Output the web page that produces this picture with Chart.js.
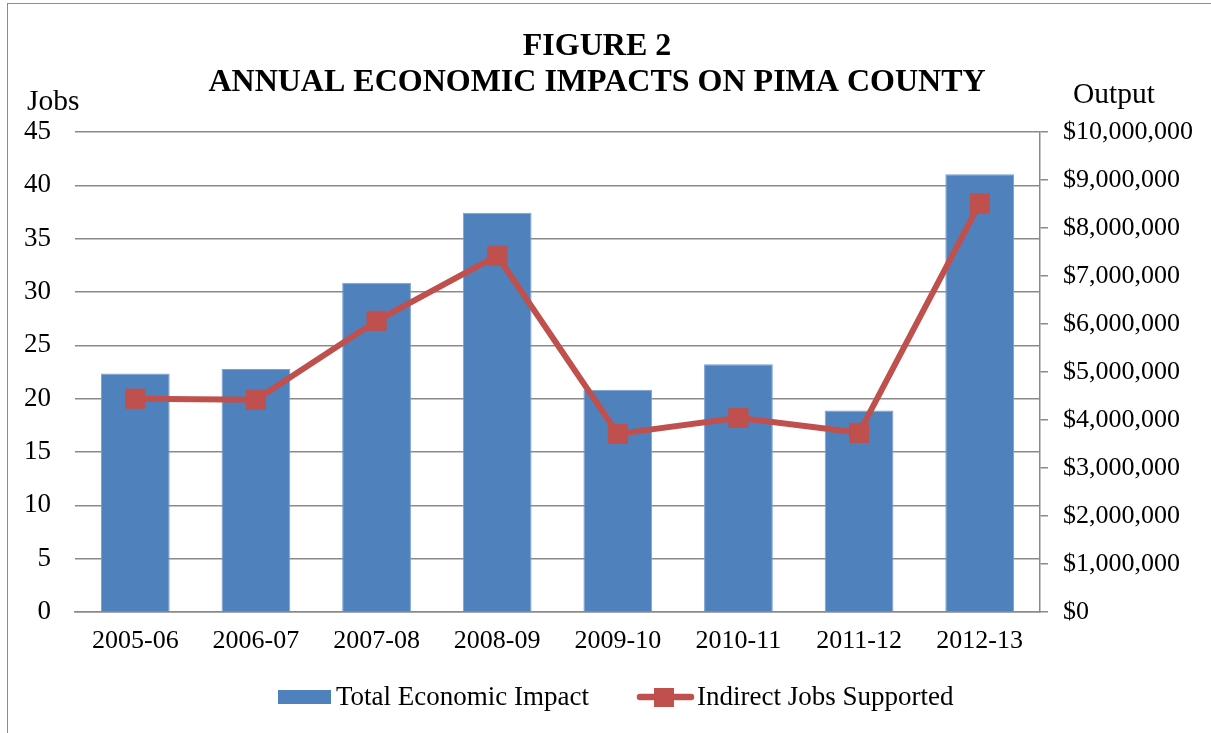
<!DOCTYPE html>
<html>
<head>
<meta charset="utf-8">
<title>Figure 2 - Annual Economic Impacts on Pima County</title>
<script src="https://cdn.jsdelivr.net/npm/chart.js@4.4.1/dist/chart.umd.min.js"></script>
<style>
    html, body { margin: 0; padding: 0; background: #fff; }
    #frame {
        position: absolute; left: 7px; top: 3px; width: 1300px; height: 800px;
        border-left: 1.5px solid #8c8c8c; border-top: 1.5px solid #8c8c8c;
    }
    #wrap { position: absolute; left: 0; top: 0; width: 1211px; height: 733px; }
</style>
</head>
<body>
<div id="frame"></div>
<div id="wrap"><canvas id="chart" width="1211" height="733"></canvas></div>
<script>
// Chart data
const years = ['2005-06', '2006-07', '2007-08', '2008-09', '2009-10', '2010-11', '2011-12', '2012-13'];
const totalEconomicImpact = [4970000, 5060000, 6860000, 8320000, 4630000, 5160000, 4200000, 9120000];
const indirectJobs = [20.0, 19.9, 27.3, 33.4, 16.7, 18.2, 16.8, 38.3];
const titleLines = ['FIGURE 2', 'ANNUAL ECONOMIC IMPACTS ON PIMA COUNTY'];
const jobsTicks = { min: 0, max: 45, step: 5 };
const outputTicks = { min: 0, max: 10000000, step: 1000000 };

const SERIF = '"Liberation Serif", "Times New Roman", Times, serif';
const BLUE = '#4F81BD';
const RED = '#C0504D';
const GRID = '#8a8a8a';

// Plot area edges (pixels)
const PLOT_LEFT = 75;
const PLOT_RIGHT = 1040;
const PLOT_TOP = 132;
const PLOT_BOTTOM = 612;

function formatDollars(v) {
    return '$' + Math.round(v).toLocaleString('en-US');
}

// Draws the title, the two horizontal axis captions and the legend
const decorations = {
    id: 'decorations',
    afterDraw(chart) {
        const ctx = chart.ctx;
        ctx.save();
        ctx.fillStyle = '#000';

        // title
        ctx.font = 'bold 32px ' + SERIF;
        ctx.textAlign = 'center';
        ctx.textBaseline = 'alphabetic';
        ctx.fillText(titleLines[0], 597, 55);
        ctx.fillText(titleLines[1], 597, 91);

        // axis captions
        ctx.font = '29.5px ' + SERIF;
        ctx.textAlign = 'left';
        ctx.fillText('Jobs', 27, 110);
        ctx.fillText('Output', 1073, 103);

        // legend
        const ds = chart.data.datasets;
        const barSet = ds.find(d => d.type === 'bar');
        const lineSet = ds.find(d => d.type === 'line');
        const ly = 697;
        ctx.font = '27px ' + SERIF;
        ctx.textBaseline = 'middle';

        ctx.fillStyle = barSet.backgroundColor;
        ctx.fillRect(278, ly - 7, 53, 14);
        ctx.fillStyle = '#000';
        ctx.fillText(barSet.label, 336, ly + 1);

        ctx.strokeStyle = lineSet.borderColor;
        ctx.lineWidth = 6.5;
        ctx.lineCap = 'round';
        ctx.beginPath();
        ctx.moveTo(640, ly);
        ctx.lineTo(691, ly);
        ctx.stroke();
        ctx.fillStyle = lineSet.pointBackgroundColor;
        ctx.fillRect(654, ly - 9, 20, 19);
        ctx.fillStyle = '#000';
        ctx.fillText(lineSet.label, 697, ly + 1);

        ctx.restore();
    }
};

const ctx = document.getElementById('chart').getContext('2d');

new Chart(ctx, {
    data: {
        labels: years,
        datasets: [
            {
                type: 'line',
                label: 'Indirect Jobs Supported',
                data: indirectJobs,
                yAxisID: 'yJobs',
                order: 1,
                borderColor: RED,
                borderWidth: 6,
                tension: 0,
                pointStyle: 'rect',
                pointRadius: 13.5,
                pointHoverRadius: 13.5,
                pointBackgroundColor: RED,
                pointBorderColor: RED,
                pointBorderWidth: 1
            },
            {
                type: 'bar',
                label: 'Total Economic Impact',
                data: totalEconomicImpact,
                yAxisID: 'yOutput',
                order: 2,
                backgroundColor: BLUE,
                borderColor: '#7aa0d2',
                borderWidth: 1,
                categoryPercentage: 1.0,
                barPercentage: 0.57
            }
        ]
    },
    options: {
        responsive: false,
        animation: false,
        maintainAspectRatio: false,
        layout: { padding: { top: PLOT_TOP, left: 0, right: 0, bottom: 0 } },
        plugins: {
            legend: { display: false },
            title: { display: false },
            tooltip: { enabled: false }
        },
        scales: {
            x: {
                grid: { display: false, drawTicks: false },
                border: { display: true, color: GRID, width: 1.5 },
                ticks: {
                    color: '#000',
                    padding: 14,
                    maxRotation: 0,
                    font: { family: SERIF, size: 26 }
                },
                afterFit(scale) { scale.height = 733 - PLOT_BOTTOM; }
            },
            yJobs: {
                position: 'left',
                min: jobsTicks.min,
                max: jobsTicks.max,
                grid: { color: GRID, lineWidth: 1.5, drawTicks: false },
                border: { display: false },
                ticks: {
                    stepSize: jobsTicks.step,
                    color: '#000',
                    padding: 24,
                    font: { family: SERIF, size: 27 }
                },
                afterFit(scale) { scale.width = PLOT_LEFT; }
            },
            yOutput: {
                position: 'right',
                min: outputTicks.min,
                max: outputTicks.max,
                grid: { drawOnChartArea: false, drawTicks: true, tickLength: 8, color: GRID, lineWidth: 1.5 },
                border: { display: true, color: GRID, width: 1.5 },
                ticks: {
                    stepSize: outputTicks.step,
                    color: '#000',
                    padding: 15,
                    font: { family: SERIF, size: 26 },
                    callback: v => formatDollars(v)
                },
                afterFit(scale) { scale.width = 1211 - PLOT_RIGHT; }
            }
        }
    },
    plugins: [decorations]
});
</script>
</body>
</html>
